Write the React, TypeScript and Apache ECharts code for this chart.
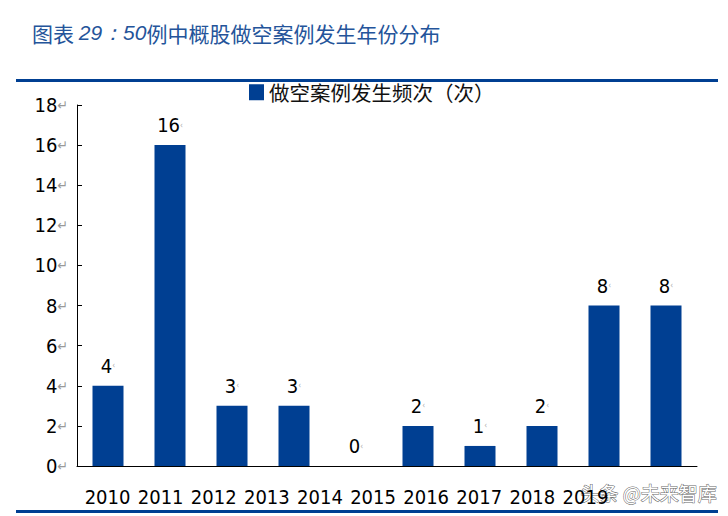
import React, { useEffect, useRef } from 'react';
import * as echarts from 'echarts';

const years = ['2010', '2011', '2012', '2013', '2014', '2015', '2016', '2017', '2018', '2019'];
const shortCases = [4, 16, 3, 3, 0, 2, 1, 2, 8, 8];
const seriesName = '做空案例发生频次（次）';
const titleText = '例中概股做空案例发生年份分布';

const BLUE = '#003F92';
const numFont = "'DejaVu Sans Condensed', 'DejaVu Sans', sans-serif";
const cjkFont = "'Noto Sans CJK SC', sans-serif";

const App: React.FC = () => {
  const chartRef = useRef<HTMLDivElement>(null);

  useEffect(() => {
    if (!chartRef.current) return;
    const chart = echarts.init(chartRef.current, undefined, { renderer: 'svg' });

    const option: echarts.EChartsOption = {
      animation: false,
      backgroundColor: '#fff',
      legend: {
        top: 77,
        left: 244,
        itemWidth: 15,
        itemHeight: 16,
        itemGap: 4,
        icon: 'rect',
        textStyle: { fontFamily: cjkFont, fontSize: 20.5, color: '#111' },
        data: [seriesName],
      },
      grid: [
        { left: 77, right: 31, top: 105, bottom: 50 },
        // the year labels sit on a tighter pitch than the bars in the source
        { left: 81, width: 531, top: 105, bottom: 50 },
      ],
      xAxis: [
        {
          type: 'category',
          data: years,
          gridIndex: 0,
          axisLine: { lineStyle: { color: '#000', width: 1 } },
          axisTick: { inside: true, length: 6, lineStyle: { color: '#000' } },
          axisLabel: { show: false },
        },
        {
          type: 'category',
          data: years,
          gridIndex: 1,
          axisLine: { show: false },
          axisTick: { show: false },
          axisLabel: {
            interval: 0,
            margin: 21,
            fontFamily: numFont,
            fontSize: 20,
            color: '#000',
          },
        },
      ],
      yAxis: [
        {
          type: 'value',
          gridIndex: 0,
          min: 0,
          max: 18,
          interval: 2,
          splitLine: { show: false },
          axisLine: { show: true, lineStyle: { color: '#000', width: 1 } },
          axisTick: { show: true, inside: true, length: 5, lineStyle: { color: '#000' } },
          axisLabel: {
            margin: 9,
            formatter: (v: number) => `{n|${v}}{r|↵}`,
            rich: {
              n: { fontFamily: numFont, fontSize: 20, color: '#000' },
              r: { fontFamily: numFont, fontSize: 14, color: '#999' },
            },
          },
        },
        { type: 'value', gridIndex: 1, show: false, min: 0, max: 18 },
      ],
      series: [
        {
          name: seriesName,
          type: 'bar',
          xAxisIndex: 0,
          yAxisIndex: 0,
          data: shortCases,
          barWidth: '50%',
          itemStyle: { color: BLUE },
          label: {
            show: true,
            position: 'top',
            distance: 10,
            formatter: (p: any) => `{n|${p.value}}{r|‹}`,
            rich: {
              n: { fontFamily: numFont, fontSize: 20, color: '#000' },
              r: { fontFamily: numFont, fontSize: 8, color: '#aaa' },
            },
          },
        },
      ],
      graphic: [
        {
          type: 'text',
          left: 32,
          top: 22,
          style: {
            text: '{a|图表 }{b|29：}{b|50}{a|' + titleText + '}',
            rich: {
              a: { fontFamily: cjkFont, fontSize: 21, fill: '#24549A' },
              b: { fontFamily: "'Liberation Sans', sans-serif", fontSize: 21, fontStyle: 'italic', fill: '#24549A' },
            },
          },
        },
        {
          type: 'rect',
          shape: { x: 16, y: 79, width: 702, height: 3 },
          style: { fill: BLUE },
        },
        {
          type: 'rect',
          shape: { x: 16, y: 510, width: 702, height: 3 },
          style: { fill: BLUE },
        },
        {
          type: 'text',
          left: 580,
          top: 482,
          style: {
            text: '头条 @未来智库',
            fontFamily: cjkFont,
            fontSize: 19,
            fill: '#ffffff',
            stroke: '#666',
            lineWidth: 1,
          },
        },
      ],
    };

    chart.setOption(option);
    return () => chart.dispose();
  }, []);

  return (
    <div
      ref={chartRef}
      style={{ position: 'absolute', left: 0, top: 0, width: '728px', height: '516px' }}
    />
  );
};

export default App;
